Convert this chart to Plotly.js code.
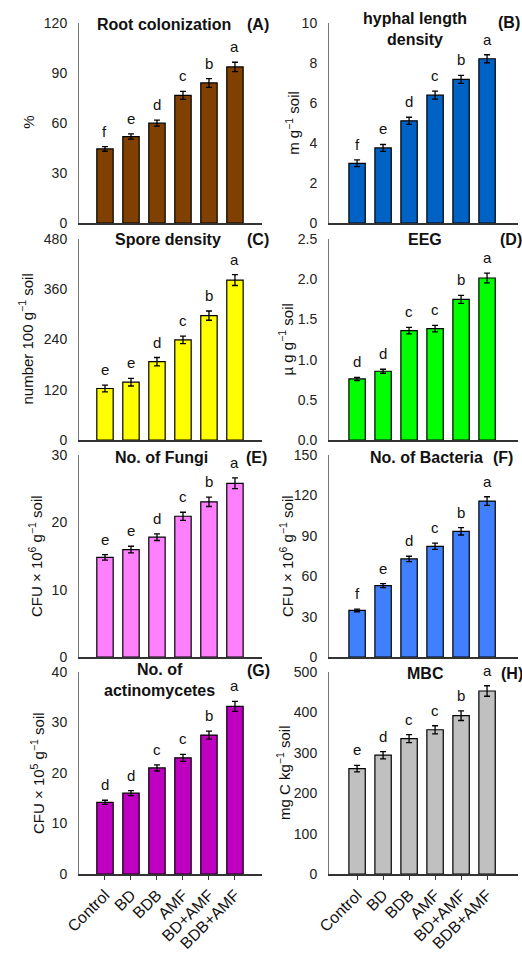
<!DOCTYPE html>
<html>
<head>
<meta charset="utf-8">
<script src="https://cdn.plot.ly/plotly-3.0.1.min.js"></script>
<style>html,body{margin:0;padding:0;background:#fff;}#chart{width:522px;height:953px;}</style>
</head>
<body>
<div id="chart"></div>
<script>
const categories = ['Control', 'BD', 'BDB', 'AMF', 'BD+AMF', 'BDB+AMF'];

const rootColonization = [44.4, 51.8, 59.8, 76.5, 83.9, 93.5];
const rootColonizationErr = [1.4, 1.6, 1.8, 2.4, 2.6, 2.8];
const rootColonizationLetters = ['f', 'e', 'd', 'c', 'b', 'a'];

const hyphalLength = [2.98, 3.75, 5.1, 6.38, 7.17, 8.2];
const hyphalLengthErr = [0.17, 0.17, 0.18, 0.2, 0.2, 0.2];
const hyphalLengthLetters = ['f', 'e', 'd', 'c', 'b', 'a'];

const sporeDensity = [123, 138, 187, 239, 297, 382];
const sporeDensityErr = [8, 9, 10, 9, 11, 13];
const sporeDensityLetters = ['e', 'e', 'd', 'c', 'b', 'a'];

const eeg = [0.76, 0.855, 1.36, 1.385, 1.75, 2.015];
const eegErr = [0.02, 0.025, 0.04, 0.04, 0.05, 0.06];
const eegLetters = ['d', 'd', 'c', 'c', 'b', 'a'];

const fungi = [14.8, 15.95, 17.8, 20.9, 23.05, 25.8];
const fungiErr = [0.4, 0.5, 0.5, 0.6, 0.7, 0.8];
const fungiLetters = ['e', 'e', 'd', 'c', 'b', 'a'];

const bacteria = [34.6, 53, 72.8, 82.2, 93.3, 115.8];
const bacteriaErr = [1, 1.5, 2, 2.3, 2.7, 3.2];
const bacteriaLetters = ['f', 'e', 'd', 'c', 'b', 'a'];

const actinomycetes = [14.2, 16.0, 21.0, 23.0, 27.5, 33.2];
const actinomycetesErr = [0.4, 0.5, 0.6, 0.7, 0.8, 1.0];
const actinomycetesLetters = ['d', 'd', 'c', 'c', 'b', 'a'];

const mbc = [261, 294, 335, 357, 392, 453];
const mbcErr = [8, 9, 10, 10, 12, 13];
const mbcLetters = ['e', 'd', 'c', 'c', 'b', 'a'];

const W = 522, H = 953;
const px = v => v / W;
const py = v => 1 - v / H;

const panels = [
  {vals: rootColonization, err: rootColonizationErr, letters: rootColonizationLetters, color: 'rgb(128,64,0)',
   ymax: 120, dtick: 30, fmt: '', col: 0, row: 0, ytitle: '%', ytx: 29,
   titles: [{text: 'Root colonization', x: 95, y: 24, xa: 'left'}, {text: '(A)', x: 245, y: 24, xa: 'left'}]},
  {vals: hyphalLength, err: hyphalLengthErr, letters: hyphalLengthLetters, color: 'rgb(0,98,196)',
   ymax: 10, dtick: 2, fmt: '', col: 1, row: 0, ytitle: 'm g<sup>−1</sup> soil', ytx: 293,
   titles: [{text: 'hyphal length<br>density', x: 415, y: 29, xa: 'center'}, {text: '(B)', x: 496, y: 22, xa: 'left'}]},
  {vals: sporeDensity, err: sporeDensityErr, letters: sporeDensityLetters, color: 'rgb(255,255,0)',
   ymax: 480, dtick: 120, fmt: '', col: 0, row: 1, ytitle: 'number 100 g<sup>−1</sup> soil', ytx: 26,
   titles: [{text: 'Spore density', x: 113, y: 239, xa: 'left'}, {text: '(C)', x: 245, y: 239, xa: 'left'}]},
  {vals: eeg, err: eegErr, letters: eegLetters, color: 'rgb(0,255,0)',
   ymax: 2.5, dtick: 0.5, fmt: '.1f', col: 1, row: 1, ytitle: 'µ g g<sup>−1</sup> soil', ytx: 286,
   titles: [{text: 'EEG', x: 425, y: 239, xa: 'center'}, {text: '(D)', x: 498, y: 239, xa: 'left'}]},
  {vals: fungi, err: fungiErr, letters: fungiLetters, color: 'rgb(255,128,255)',
   ymax: 30, dtick: 10, fmt: '', col: 0, row: 2, ytitle: 'CFU × 10<sup>6</sup> g<sup>−1</sup> soil', ytx: 35,
   titles: [{text: 'No. of Fungi', x: 113, y: 457, xa: 'left'}, {text: '(E)', x: 244, y: 457, xa: 'left'}]},
  {vals: bacteria, err: bacteriaErr, letters: bacteriaLetters, color: 'rgb(64,128,255)',
   ymax: 150, dtick: 30, fmt: '', col: 1, row: 2, ytitle: 'CFU × 10<sup>6</sup> g<sup>−1</sup> soil', ytx: 286,
   titles: [{text: 'No. of Bacteria', x: 368, y: 457, xa: 'left'}, {text: '(F)', x: 491, y: 457, xa: 'left'}]},
  {vals: actinomycetes, err: actinomycetesErr, letters: actinomycetesLetters, color: 'rgb(192,0,192)',
   ymax: 40, dtick: 10, fmt: '', col: 0, row: 3, ytitle: 'CFU × 10<sup>5</sup> g<sup>−1</sup> soil', ytx: 37,
   titles: [{text: 'No. of<br>actinomycetes', x: 159, y: 680, xa: 'center'}, {text: '(G)', x: 245, y: 670, xa: 'left'}]},
  {vals: mbc, err: mbcErr, letters: mbcLetters, color: 'rgb(192,192,192)',
   ymax: 500, dtick: 100, fmt: '', col: 1, row: 3, ytitle: 'mg C kg<sup>−1</sup> soil', ytx: 283,
   titles: [{text: 'MBC', x: 425, y: 673, xa: 'center'}, {text: '(H)', x: 499, y: 673, xa: 'left'}]}
];

const colX = [{d: [79, 262], r: [-1, 6.04]}, {d: [329, 518], r: [-1.08, 6.19]}];
const rowY = [[22.7, 223], [239, 440], [455, 657], [672, 874]];

const FONT = 'Liberation Sans, Arial, sans-serif';
const traces = [];
const layout = {
  width: W, height: H,
  margin: {l: 0, r: 0, t: 0, b: 0},
  paper_bgcolor: '#fff', plot_bgcolor: '#fff',
  showlegend: false,
  bargap: 0.37,
  font: {family: FONT, color: '#111'},
  annotations: []
};

panels.forEach((p, i) => {
  const n = i + 1;
  const xs = n === 1 ? 'x' : 'x' + n;
  const ys = n === 1 ? 'y' : 'y' + n;
  const xk = n === 1 ? 'xaxis' : 'xaxis' + n;
  const yk = n === 1 ? 'yaxis' : 'yaxis' + n;
  const cx = colX[p.col];
  const ry = rowY[p.row];
  const bottomRow = p.row === 3;

  traces.push({
    type: 'bar', x: categories, y: p.vals, xaxis: xs, yaxis: ys,
    marker: {color: p.color, line: {color: '#000', width: 1.2}},
    error_y: {type: 'data', array: p.err, visible: true, color: '#000', thickness: 1.3, width: 3},
    hoverinfo: 'x+y'
  });

  layout[xk] = {
    domain: [px(cx.d[0]), px(cx.d[1])],
    anchor: ys, type: 'category', range: cx.r,
    showline: true, linecolor: '#333', linewidth: 1.5,
    showgrid: false, zeroline: false,
    ticks: bottomRow ? 'outside' : '', ticklen: 4, tickcolor: '#333',
    showticklabels: bottomRow, tickangle: -45,
    tickfont: {family: FONT, size: 16, color: '#111'}
  };
  layout[yk] = {
    domain: [py(ry[1]), py(ry[0])],
    anchor: xs, range: [0, p.ymax], dtick: p.dtick, tick0: 0,
    tickformat: p.fmt,
    showline: true, linecolor: '#777', linewidth: 1,
    showgrid: false, zeroline: false, ticks: '',
    ticklabelstandoff: 8,
    tickfont: {family: FONT, size: 14, color: '#222'}
  };

  // significance letters
  p.letters.forEach((L, j) => {
    layout.annotations.push({
      xref: xs, yref: ys, x: categories[j], y: p.vals[j] + p.err[j],
      text: L, showarrow: false, yanchor: 'bottom', yshift: 5,
      font: {family: FONT, size: 15, color: '#111'}
    });
  });

  // y axis title
  layout.annotations.push({
    xref: 'paper', yref: 'paper', x: px(p.ytx), y: py((ry[0] + ry[1]) / 2),
    text: p.ytitle, textangle: -90, showarrow: false,
    xanchor: 'center', yanchor: 'middle',
    font: {family: FONT, size: 15, color: '#111'}
  });

  // panel titles
  p.titles.forEach(t => {
    layout.annotations.push({
      xref: 'paper', yref: 'paper', x: px(t.x), y: py(t.y),
      text: '<b>' + t.text + '</b>', showarrow: false,
      xanchor: t.xa, yanchor: 'middle', align: 'center',
      font: {family: FONT, size: 16, color: '#111'}
    });
  });
});

Plotly.newPlot('chart', traces, layout, {displayModeBar: false, staticPlot: true});
</script>
</body>
</html>
